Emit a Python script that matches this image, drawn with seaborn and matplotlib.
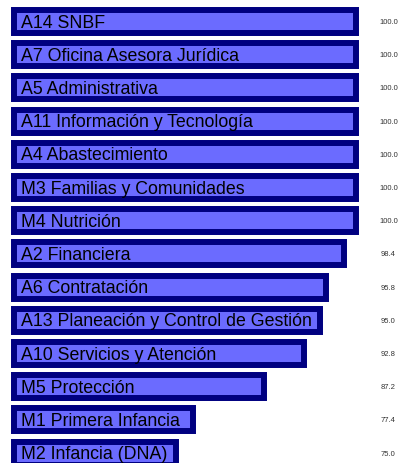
import matplotlib
matplotlib.use("Agg")
import matplotlib.pyplot as plt
import seaborn as sns
import pandas as pd

# Compliance percentage per area
areas = [
    "A14 SNBF", "A7 Oficina Asesora Jurídica", "A5 Administrativa",
    "A11 Información y Tecnología", "A4 Abastecimiento", "M3 Familias y Comunidades",
    "M4 Nutrición", "A2 Financiera", "A6 Contratación",
    "A13 Planeación y Control de Gestión", "A10 Servicios y Atención",
    "M5 Protección", "M1 Primera Infancia", "M2 Infancia (DNA)",
]
scores = [100.0, 100.0, 100.0, 100.0, 100.0, 100.0, 100.0,
          98.4, 95.8, 95.0, 92.8, 87.2, 77.4, 75.0]

BASE = 52.5  # bars start here on the value axis

df = pd.DataFrame({"area": areas, "score": scores})

sns.set_style("white")
plt.rcParams["font.family"] = ["Liberation Sans", "DejaVu Sans"]

fig = plt.figure(figsize=(4.05, 4.64), dpi=100)
ax = fig.add_axes([0, 0, 1, 1])

sns.barplot(data=df, x="score", y="area", orient="h", ax=ax,
            color="#6b6bff", edgecolor="#000080", linewidth=4.3,
            width=0.69, saturation=1)

# move bar bases to the start of the visible scale
for p in ax.patches:
    p.set_width(p.get_x() + p.get_width() - BASE)
    p.set_x(BASE)

for i, (name, val) in enumerate(zip(areas, scores)):
    ax.text(BASE + 1.0, i + 0.02, name, va="center", ha="left",
            fontsize=12.8, color="#000000")
    ax.text(104.5, i, f"{val:.1f}", va="center", ha="center",
            fontsize=5.5, color="#333333")

ax.set_xlim(50.56, 50.56 + 405 / 7.2)
ax.set_ylim(13.298, -0.678)
ax.axis("off")

fig.savefig("out.png", dpi=100)
